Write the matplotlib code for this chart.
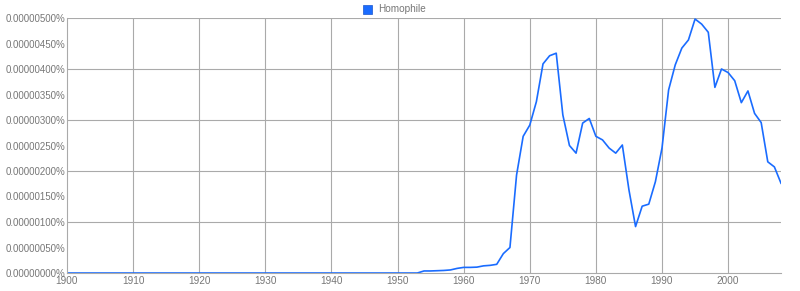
# Ngram-style frequency chart for "Homophile", 1900-2008
import numpy as np
import matplotlib.pyplot as plt
from matplotlib.ticker import FuncFormatter, MultipleLocator

# Years and frequency values (in units of 1e-8 percent)
years = np.arange(1900, 2009)
early = [0] * 54  # 1900-1953
late = [4, 4, 4.5, 5, 6, 9, 11, 11, 11.5, 14, 15, 17, 38, 50, 192, 268,
        290, 336, 410, 426, 431, 310, 250, 235, 294, 303,
        268, 261, 245, 235, 251, 163, 91, 131, 135, 179,
        245, 359, 408, 441, 457, 498, 488, 472, 364, 400,
        393, 377, 334, 357, 313, 295, 218, 208, 176]
freq = np.array(early + late) * 1e-8
label = "Homophile"

plt.rcParams["font.family"] = ["Liberation Sans", "DejaVu Sans"]
fig = plt.figure(figsize=(8, 2.91), dpi=100)
ax = fig.add_axes([67 / 800, 1 - 273 / 291, (781 - 67) / 800, 255 / 291])

ax.plot(years, freq, color="#1a6cff", lw=1.2)

ax.set_xlim(1900, 2008)
ax.set_ylim(0, 5e-6)
ax.xaxis.set_major_locator(MultipleLocator(10))
ax.yaxis.set_major_locator(MultipleLocator(0.5e-6))
ax.yaxis.set_major_formatter(FuncFormatter(lambda v, p: f"{v:.8f}%"))

# grid lines every 10 years and every 0.000001%
for x in range(1910, 2008, 10):
    ax.axvline(x, color="#aaaaaa", lw=0.8, zorder=0)
for y in np.arange(1e-6, 5.01e-6, 1e-6):
    ax.axhline(y, color="#aaaaaa", lw=0.8, zorder=0)

for side in ["top", "right"]:
    ax.spines[side].set_visible(False)
for side in ["left", "bottom"]:
    ax.spines[side].set_color("#aaaaaa")
    ax.spines[side].set_linewidth(0.8)

ax.tick_params(length=0, labelcolor="#777777")
ax.tick_params(axis="y", pad=1, labelsize=7)
ax.tick_params(axis="x", pad=2, labelsize=7.2)

# legend square and label at the top
fig.patches.append(plt.Rectangle((363 / 800, 1 - 14 / 291), 9 / 800, 9 / 291,
                                 transform=fig.transFigure,
                                 facecolor="#1a6cff", edgecolor="#1a55cc",
                                 lw=0.5))
fig.text(378 / 800, 1 - 9.5 / 291, label, fontsize=7.2, color="#777777",
         va="center")

fig.savefig("out.png", dpi=100)
